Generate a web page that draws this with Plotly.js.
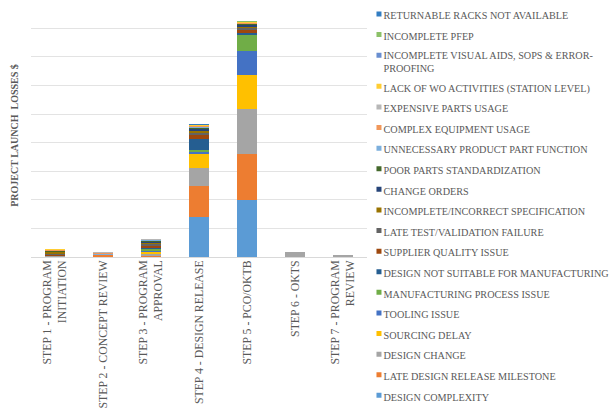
<!DOCTYPE html>
<html>
<head>
<meta charset="utf-8">
<script src="https://cdn.plot.ly/plotly-3.0.1.min.js"></script>
<style>
  html, body { margin: 0; padding: 0; background: #fff; }
  #chart { width: 614px; height: 408px; }
</style>
</head>
<body>
<div id="chart"></div>
<script>
// Launch steps (x categories)
const steps = [
  "STEP 1 - PROGRAM<br>INITIATION",
  "STEP 2 - CONCEPT REVIEW",
  "STEP 3 - PROGRAM<br>APPROVAL",
  "STEP 4 - DESIGN RELEASE",
  "STEP 5 - PCO/OKTB",
  "STEP 6 - OKTS",
  "STEP 7 - PROGRAM<br>REVIEW"
];

// Loss causes, stacked bottom to top
const causes = [
  "DESIGN COMPLEXITY",
  "LATE DESIGN RELEASE MILESTONE",
  "DESIGN CHANGE",
  "SOURCING DELAY",
  "TOOLING ISSUE",
  "MANUFACTURING PROCESS ISSUE",
  "DESIGN NOT SUITABLE FOR MANUFACTURING",
  "SUPPLIER QUALITY ISSUE",
  "LATE TEST/VALIDATION FAILURE",
  "INCOMPLETE/INCORRECT SPECIFICATION",
  "CHANGE ORDERS",
  "POOR PARTS STANDARDIZATION",
  "UNNECESSARY PRODUCT PART FUNCTION",
  "COMPLEX EQUIPMENT USAGE",
  "EXPENSIVE PARTS USAGE",
  "LACK OF WO ACTIVITIES (STATION LEVEL)",
  "INCOMPLETE VISUAL AIDS, SOPS & ERROR-<br>PROOFING",
  "INCOMPLETE PFEP",
  "RETURNABLE RACKS NOT AVAILABLE"
];

const causeColors = [
  "#5B9BD5", "#ED7D31", "#A5A5A5", "#FFC000", "#4472C4", "#70AD47",
  "#255E91", "#9E480E", "#636363", "#997300", "#264478", "#43682B",
  "#7CAFDD", "#F1975A", "#B7B7B7", "#FFCD33", "#698ED0", "#8CC168",
  "#327DC2"
];

// Losses per cause, one value per step
const designComplexity      = [0, 0, 0, 141, 201, 0, 0];
const lateDesignRelease     = [0, 8, 4, 107, 161, 0, 0];
const designChange          = [5, 0, 6, 64, 156, 19, 6];
const sourcingDelay         = [0, 0, 7, 48, 120, 0, 0];
const toolingIssue          = [0, 0, 5, 6, 81, 0, 0];
const mfgProcessIssue       = [0, 0, 5, 7, 58, 0, 0];
const designNotSuitable     = [0, 0, 6, 40, 8, 0, 0];
const supplierQuality       = [2, 0, 7, 13, 10, 0, 0];
const lateTestFailure       = [3, 0, 4, 8, 6, 0, 0];
const incompleteSpec        = [8, 0, 5, 7, 5, 0, 0];
const changeOrders          = [0, 0, 4, 6, 5, 0, 0];
const poorStandardization   = [2, 0, 3, 4, 3, 0, 0];
const unnecessaryFunction   = [0, 2, 2, 3, 2, 0, 0];
const complexEquipment      = [3, 3, 3, 3, 2, 0, 0];
const expensiveParts        = [3, 5, 2, 2, 2, 0, 0];
const lackOfWo              = [2, 0, 1, 2, 2, 0, 0];
const incompleteVisualAids  = [0, 0, 0, 1, 1, 0, 0];
const incompletePfep        = [0, 0, 0, 1, 1, 0, 0];
const returnableRacks       = [0, 0, 0, 1, 0, 0, 0];

const seriesValues = [
  designComplexity, lateDesignRelease, designChange, sourcingDelay,
  toolingIssue, mfgProcessIssue, designNotSuitable, supplierQuality,
  lateTestFailure, incompleteSpec, changeOrders, poorStandardization,
  unnecessaryFunction, complexEquipment, expensiveParts, lackOfWo,
  incompleteVisualAids, incompletePfep, returnableRacks
];

const textGray = "#595959";
const serif = "Liberation Serif, Times New Roman, serif";

// one legend group per cause so tracegroupgap spaces the entries;
// legendrank lists the top of the stack first
const traces = causes.map((name, i) => ({
  type: "bar",
  name: name,
  legendgroup: "g" + i,
  legendrank: causes.length - i,
  x: steps,
  y: seriesValues[i],
  marker: { color: causeColors[i], line: { width: 0 } },
  hoverinfo: "name+y"
}));

const layout = {
  width: 614,
  height: 408,
  margin: { l: 31, r: 247, t: 14, b: 151, autoexpand: false },
  paper_bgcolor: "#ffffff",
  plot_bgcolor: "#ffffff",
  barmode: "stack",
  bargap: 0.6,
  font: { family: serif, color: textGray, size: 11 },
  xaxis: {
    type: "category",
    tickangle: -90,
    ticks: "",
    showgrid: false,
    showline: false,
    tickfont: { family: serif, size: 11.8, color: textGray },
    fixedrange: true
  },
  yaxis: {
    range: [0, 850],
    dtick: 100,
    showticklabels: false,
    ticks: "",
    showgrid: true,
    gridcolor: "#E3E3E3",
    gridwidth: 1,
    zeroline: true,
    zerolinecolor: "#D9D9D9",
    zerolinewidth: 1,
    title: {
      text: "<b>PROJECT LAUNCH  LOSSES $</b>",
      standoff: 9,
      font: { family: serif, size: 10, color: textGray }
    },
    fixedrange: true
  },
  legend: {
    traceorder: "grouped",
    tracegroupgap: 1.6,
    x: 0.93,
    xanchor: "left",
    y: 1.054,
    yanchor: "top",
    valign: "top",
    maxheight: 600,
    bgcolor: "rgba(0,0,0,0)",
    borderwidth: 0,
    font: { family: serif, size: 10.2, color: textGray }
  },
  showlegend: true
};

Plotly.newPlot("chart", traces, layout, { displayModeBar: false, staticPlot: true })
  .then(gd => {
    // small square keys set just left of each legend label
    gd.querySelectorAll(".legend .legendpoints path").forEach(p => {
      p.setAttribute("d", "M18,2.5H13V-2.5H18Z");
    });
  });
</script>
</body>
</html>
